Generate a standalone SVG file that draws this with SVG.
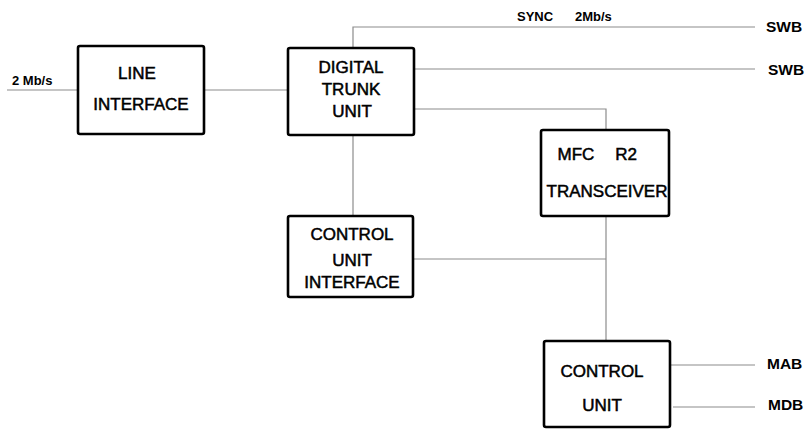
<svg xmlns="http://www.w3.org/2000/svg" width="809" height="429" viewBox="0 0 809 429">
<style>
.box{fill:#fff;stroke:#000;stroke-width:2.6}
.t{font-family:"Liberation Sans",Arial,sans-serif;font-size:17px;fill:#000;text-anchor:middle;stroke:#000;stroke-width:0.5}
.l{font-family:"Liberation Sans",Arial,sans-serif;font-size:13px;font-weight:bold;fill:#000}
.r{font-family:"Liberation Sans",Arial,sans-serif;font-size:15.5px;font-weight:bold;fill:#000}
.c{fill:none;stroke:#8c8c8c;stroke-width:1.2}
</style>
<rect width="809" height="429" fill="#fff"/>
<g id="connectors">
<path class="c" d="M7,90H78"/>
<path class="c" d="M204,90H288"/>
<path class="c" d="M353,48V27H755"/>
<path class="c" d="M414,69H755"/>
<path class="c" d="M414,109H606V130"/>
<path class="c" d="M353,135V216"/>
<path class="c" d="M413,259H606"/>
<path class="c" d="M606,216V341"/>
<path class="c" d="M670,365H755"/>
<path class="c" d="M673,407H755"/>
</g>
<g id="labels">
<text class="l" x="12" y="85">2 Mb/s</text>
<text class="l" x="517" y="21">SYNC</text>
<text class="l" x="575" y="21">2Mb/s</text>
<text class="r" x="766" y="32">SWB</text>
<text class="r" x="768" y="75">SWB</text>
<text class="r" x="767" y="369">MAB</text>
<text class="r" x="768" y="410">MDB</text>
</g>
<g id="line-interface">
<rect class="box" x="78" y="46" width="126" height="88" rx="2"/>
<text class="t" x="137" y="79">LINE</text>
<text class="t" x="141" y="110">INTERFACE</text>
</g>
<g id="digital-trunk-unit">
<rect class="box" x="288" y="48" width="126" height="87" rx="2"/>
<text class="t" x="351" y="73">DIGITAL</text>
<text class="t" x="351" y="95">TRUNK</text>
<text class="t" x="352" y="117">UNIT</text>
</g>
<g id="mfc-r2-transceiver">
<rect class="box" x="541" y="130" width="128" height="86" rx="2"/>
<text class="t" x="576" y="160">MFC</text>
<text class="t" x="626" y="160">R2</text>
<text class="t" x="607" y="197">TRANSCEIVER</text>
</g>
<g id="control-unit-interface">
<rect class="box" x="288" y="216" width="125" height="81" rx="2"/>
<text class="t" x="352" y="240">CONTROL</text>
<text class="t" x="352" y="266">UNIT</text>
<text class="t" x="352" y="288">INTERFACE</text>
</g>
<g id="control-unit">
<rect class="box" x="544" y="341" width="126" height="86" rx="2"/>
<text class="t" x="602" y="377">CONTROL</text>
<text class="t" x="602" y="411">UNIT</text>
</g>
</svg>
